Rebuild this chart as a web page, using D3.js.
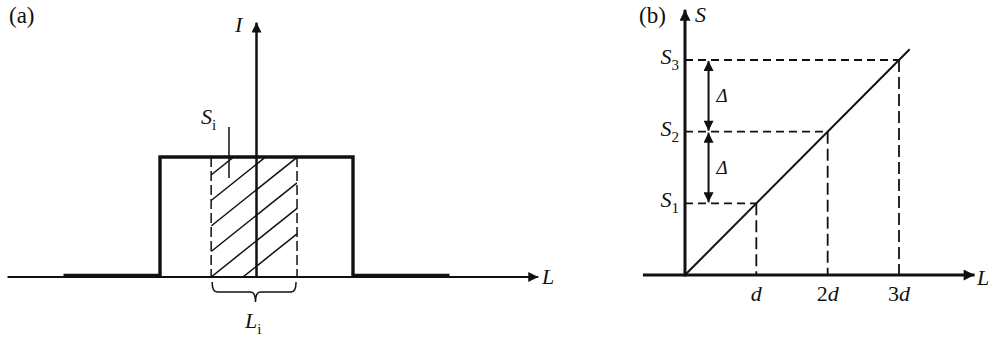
<!DOCTYPE html>
<html>
<head>
<meta charset="utf-8">
<script src="https://cdn.jsdelivr.net/npm/d3@7"></script>
<style>
  html, body { margin: 0; padding: 0; background: #fff; }
  svg { display: block; }
</style>
</head>
<body>
<svg id="chart" width="993" height="342" font-family="'Liberation Serif', 'Times New Roman', 'DejaVu Serif', serif"></svg>
<script>
// (a) intensity profile I(L): a flat top with short feet either side
const profileL = [-2, -1, -1, 1, 1, 2];
const profileI = [0, 0, 1, 1, 0, 0];
const sliceL = [-0.47, 0.42];       // hatched strip S_i of width L_i
const axisAL = [-2.58, 2.92];
const axisAI = [0, 2.12];

// (b) accumulated S against L
const steps = [1, 2, 3];
const tickLabels = ["d", "2d", "3d"];
const stepSubs = ["1", "2", "3"];
const lineEnd = 3.15;
const axisBL = [-0.59, 4.06];
const axisBS = [0, 3.7];

const svg = d3.select("#chart");
const ink = "#111";
const serif = "'Liberation Serif', 'Times New Roman', 'DejaVu Serif', serif";

// arrow heads
const defs = svg.append("defs");
function arrowHead(id, len, wid) {
    defs.append("marker")
        .attr("id", id)
        .attr("viewBox", "0 0 10 10")
        .attr("refX", 10).attr("refY", 5)
        .attr("markerUnits", "userSpaceOnUse")
        .attr("markerWidth", len).attr("markerHeight", wid)
        .attr("orient", "auto-start-reverse")
        .append("path")
        .attr("d", "M0,0L10,5L0,10z")
        .attr("fill", ink);
}
arrowHead("arrA", 12, 10);
arrowHead("arrB", 13, 11);
arrowHead("arrD", 11, 10);

function subText(g, x, y, main, sub, opts) {
    opts = opts || {};
    const t = g.append("text")
        .attr("x", x).attr("y", y)
        .attr("font-family", serif).attr("fill", ink)
        .attr("text-anchor", opts.anchor || "start")
        .attr("font-size", opts.size || 22);
    t.append("tspan").attr("font-style", "italic").text(main);
    if (sub) {
        t.append("tspan").attr("dy", 6).attr("font-size", 15).text(sub);
    }
    return t;
}

// ---------- panel (a) ----------
const xA = d3.scaleLinear().domain([-1, 1]).range([160, 353]);
const yA = d3.scaleLinear().domain([0, 1]).range([277, 157]);
const gA = svg.append("g");

gA.append("text").attr("x", 9).attr("y", 23)
    .attr("font-family", serif).attr("font-size", 23).attr("fill", ink).text("(a)");

// L axis
gA.append("line")
    .attr("x1", xA(axisAL[0])).attr("x2", xA(axisAL[1]))
    .attr("y1", yA(0)).attr("y2", yA(0))
    .attr("stroke", ink).attr("stroke-width", 2)
    .attr("marker-end", "url(#arrA)");
subText(gA, 542, 284, "L");

// hatched strip
const sx0 = xA(sliceL[0]), sx1 = xA(sliceL[1]);
defs.append("clipPath").attr("id", "sliceClip")
    .append("rect")
    .attr("x", sx0).attr("y", yA(1))
    .attr("width", sx1 - sx0).attr("height", yA(0) - yA(1));
const slope = 0.8, gap = 25.5;
const hatch = d3.range(-1, 9).map(k => {
    const yb = yA(0) - k * gap;
    return [[sx0, yb], [sx1, yb - slope * (sx1 - sx0)]];
});
gA.append("g").attr("clip-path", "url(#sliceClip)")
    .selectAll("path").data(hatch).join("path")
    .attr("d", d3.line())
    .attr("stroke", ink).attr("stroke-width", 1.5).attr("fill", "none");

gA.selectAll("line.slice").data(sliceL).join("line")
    .attr("class", "slice")
    .attr("x1", d => xA(d)).attr("x2", d => xA(d))
    .attr("y1", yA(1)).attr("y2", yA(0))
    .attr("stroke", ink).attr("stroke-width", 1.5)
    .attr("stroke-dasharray", "10,4");

// profile
const profile = d3.zip(profileL, profileI);
gA.append("path")
    .datum(profile)
    .attr("d", d3.line().x(d => xA(d[0])).y(d => yA(d[1]) - (d[1] === 0 ? 1.5 : 0)))
    .attr("fill", "none").attr("stroke", ink).attr("stroke-width", 3.4);

// I axis
gA.append("line")
    .attr("x1", xA(0)).attr("x2", xA(0))
    .attr("y1", yA(axisAI[0])).attr("y2", yA(axisAI[1]))
    .attr("stroke", ink).attr("stroke-width", 2.5)
    .attr("marker-end", "url(#arrA)");
subText(gA, 235, 32, "I");

// S_i label with leader
subText(gA, 201, 124, "S", "i");
gA.append("line")
    .attr("x1", 229).attr("x2", 229)
    .attr("y1", 127).attr("y2", 178)
    .attr("stroke", ink).attr("stroke-width", 1.5);

// brace under L_i
const bx0 = sx0 + 1, bx1 = sx1 - 1, bxc = xA(0) - 1, by0 = 282, by1 = 292;
gA.append("path")
    .attr("d", `M${bx0},${by0}Q${bx0},${by1} ${bx0 + 5},${by1}H${bxc - 5}Q${bxc},${by1} ${bxc},${by1 + 10}`
        + `Q${bxc},${by1} ${bxc + 5},${by1}H${bx1 - 5}Q${bx1},${by1} ${bx1},${by0}`)
    .attr("fill", "none").attr("stroke", ink).attr("stroke-width", 1.5);
subText(gA, 245, 328, "L", "i");

// ---------- panel (b) ----------
const xB = d3.scaleLinear().domain([0, 3]).range([685, 899]);
const yB = d3.scaleLinear().domain([0, 3]).range([275, 60]);
const gB = svg.append("g");

gB.append("text").attr("x", 639).attr("y", 23)
    .attr("font-family", serif).attr("font-size", 23).attr("fill", ink).text("(b)");

// dashed guides
gB.selectAll("line.h").data(steps).join("line")
    .attr("class", "h")
    .attr("x1", xB(0)).attr("x2", d => xB(d))
    .attr("y1", d => yB(d)).attr("y2", d => yB(d))
    .attr("stroke", ink).attr("stroke-width", 1.8)
    .attr("stroke-dasharray", "8,5");
gB.selectAll("line.v").data(steps).join("line")
    .attr("class", "v")
    .attr("x1", d => xB(d)).attr("x2", d => xB(d))
    .attr("y1", d => yB(d)).attr("y2", yB(0))
    .attr("stroke", ink).attr("stroke-width", 1.8)
    .attr("stroke-dasharray", "12,5");

// S = kL
gB.append("line")
    .attr("x1", xB(0)).attr("y1", yB(0))
    .attr("x2", xB(lineEnd)).attr("y2", yB(lineEnd))
    .attr("stroke", ink).attr("stroke-width", 2);

// axes
gB.append("line")
    .attr("x1", xB(axisBL[0])).attr("x2", xB(axisBL[1]))
    .attr("y1", yB(0)).attr("y2", yB(0))
    .attr("stroke", ink).attr("stroke-width", 3)
    .attr("marker-end", "url(#arrB)");
gB.append("line")
    .attr("x1", xB(0)).attr("x2", xB(0))
    .attr("y1", yB(axisBS[0]) + 1.5).attr("y2", yB(axisBS[1]))
    .attr("stroke", ink).attr("stroke-width", 3)
    .attr("marker-end", "url(#arrB)");
subText(gB, 977, 285, "L");
subText(gB, 695, 22, "S");

// tick labels
gB.selectAll("text.tick").data(steps).join("text")
    .attr("class", "tick")
    .attr("x", d => xB(d)).attr("y", 301)
    .attr("text-anchor", "middle")
    .attr("font-family", serif).attr("fill", ink)
    .attr("font-size", 22)
    .each(function (d, i) {
        const lab = tickLabels[i];
        const t = d3.select(this);
        if (lab.length > 1) t.append("tspan").text(lab.slice(0, -1));
        t.append("tspan").attr("font-style", "italic").text(lab.slice(-1));
    });

// S_n labels
steps.forEach((d, i) => subText(gB, 679, yB(d) + 4, "S", stepSubs[i], { anchor: "end" }));

// Delta arrows between consecutive steps
const dx = xB(0.33);
d3.pairs(steps.slice().reverse()).forEach(([hi, lo]) => {
    gB.append("line")
        .attr("x1", dx).attr("x2", dx)
        .attr("y1", yB(hi) + 1).attr("y2", yB(lo) - 1)
        .attr("stroke", ink).attr("stroke-width", 2)
        .attr("marker-start", "url(#arrD)")
        .attr("marker-end", "url(#arrD)");
    gB.append("text")
        .attr("x", dx + 8).attr("y", (yB(hi) + yB(lo)) / 2 + 6)
        .attr("font-family", serif).attr("fill", ink)
        .attr("font-size", 19).attr("font-style", "italic")
        .text("\u0394");
});
</script>
</body>
</html>
